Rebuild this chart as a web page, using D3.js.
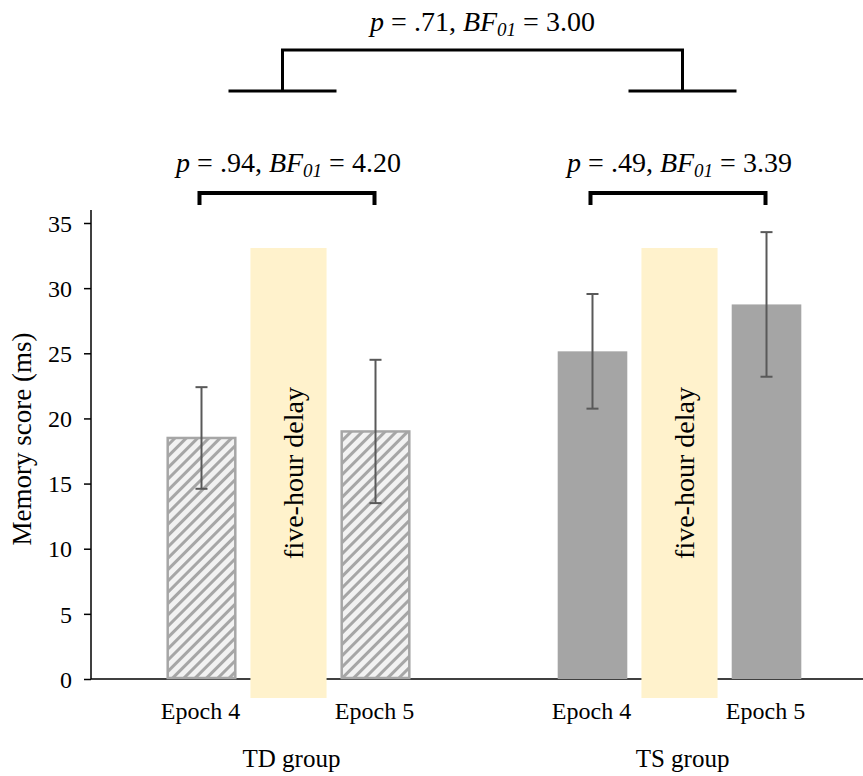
<!DOCTYPE html>
<html>
<head>
<meta charset="utf-8">
<script src="https://cdn.jsdelivr.net/npm/d3@7"></script>
<style>
  body { margin: 0; background: #fff; }
  svg { display: block; }
</style>
</head>
<body>
<svg id="chart" width="863" height="776"></svg>
<script>
// data
const groups = ['TD group', 'TS group'];
const epochs = ['Epoch 4', 'Epoch 5'];
const means = [[18.5, 19.0], [25.15, 28.75]];   // per group, per epoch
const errs = [[3.9, 5.5], [4.4, 5.55]];
const yTicks = [0, 5, 10, 15, 20, 25, 30, 35];
const delayLabel = 'five-hour delay';
const groupTests = [{ p: '.94', bf: '4.20' }, { p: '.49', bf: '3.39' }];
const overallTest = { p: '.71', bf: '3.00' };

const FONT = '"Liberation Serif", "Times New Roman", serif';
const svg = d3.select('#chart');

// scales
const y = d3.scaleLinear().domain([0, 35]).range([679, 223]);
const xGroup = d3.scaleBand().domain(groups).range([93, 875]);
const slots = [epochs[0], 'delay', epochs[1]];
const xInner = d3.scaleBand().domain(slots).range([0, xGroup.bandwidth()])
	.paddingInner(0.2).paddingOuter(0.847);

const gCenter = g => xGroup(g) + xGroup.bandwidth() / 2;
const barX = (g, e) => xGroup(g) + xInner(e);
const barMid = (g, e) => barX(g, e) + xInner.bandwidth() / 2;

function addText(sel, size) {
	return sel.append('text')
		.style('font-family', FONT)
		.style('font-size', size + 'px')
		.attr('fill', '#000');
}

// hatch pattern for the TD bars
const defs = svg.append('defs');
const pat = defs.append('pattern')
	.attr('id', 'hatch')
	.attr('patternUnits', 'userSpaceOnUse')
	.attr('width', 8)
	.attr('height', 8)
	.attr('patternTransform', 'rotate(45)');
pat.append('rect').attr('width', 8).attr('height', 8).attr('fill', '#f2f2f2');
pat.append('rect').attr('width', 3).attr('height', 8).attr('fill', '#a6a6a6');

// axes
const axisX = 91;
svg.append('line')
	.attr('x1', axisX).attr('x2', 863)
	.attr('y1', y(0)).attr('y2', y(0))
	.attr('stroke', '#000').attr('stroke-width', 1.5);
svg.append('line')
	.attr('x1', axisX).attr('x2', axisX)
	.attr('y1', 210).attr('y2', y(0))
	.attr('stroke', '#000').attr('stroke-width', 1.5);

const yAxis = svg.append('g')
	.attr('transform', `translate(${axisX},0)`)
	.call(d3.axisLeft(y).tickValues(yTicks).tickSize(7).tickPadding(12));
yAxis.select('.domain').remove();
yAxis.selectAll('.tick line').attr('stroke', '#000').attr('stroke-width', 1.5);
yAxis.selectAll('.tick text')
	.attr('fill', '#000')
	.style('font-family', FONT)
	.style('font-size', '24px')
	.attr('dy', '0.34em');

addText(svg, 27)
	.attr('transform', `translate(31,439) rotate(-90)`)
	.attr('text-anchor', 'middle')
	.text('Memory score (ms)');

// bars
const barData = [];
groups.forEach((g, gi) => {
	epochs.forEach((e, ei) => {
		barData.push({ g, e, gi, v: means[gi][ei], err: errs[gi][ei] });
	});
});

svg.selectAll('rect.bar')
	.data(barData)
	.enter()
	.append('rect')
	.classed('bar', true)
	.attr('x', d => barX(d.g, d.e) + (d.gi === 0 ? 1 : 0))
	.attr('y', d => y(d.v))
	.attr('width', d => xInner.bandwidth() - (d.gi === 0 ? 2 : 0))
	.attr('height', d => y(0) - y(d.v) - (d.gi === 0 ? 1 : 0))
	.attr('fill', d => d.gi === 0 ? 'url(#hatch)' : '#a5a5a5')
	.attr('stroke', d => d.gi === 0 ? '#a6a6a6' : 'none')
	.attr('stroke-width', 2.5);

// delay bands (drawn over the axis line)
const delayW = xInner.step() * 0.875;
const delayTop = 248, delayBottom = 698;
groups.forEach(g => {
	const cx = xGroup(g) + xInner('delay') + xInner.bandwidth() / 2;
	svg.append('rect')
		.attr('x', cx - delayW / 2)
		.attr('y', delayTop)
		.attr('width', delayW)
		.attr('height', delayBottom - delayTop)
		.attr('fill', '#fff2cc');
	addText(svg, 28)
		.attr('transform', `translate(${cx + 14},${(delayTop + delayBottom) / 2}) rotate(-90)`)
		.attr('text-anchor', 'middle')
		.text(delayLabel);
});

// error bars
const eb = svg.selectAll('g.err').data(barData).enter().append('g').classed('err', true)
	.attr('stroke', '#595959').attr('stroke-width', 2);
eb.append('line')
	.attr('x1', d => barMid(d.g, d.e)).attr('x2', d => barMid(d.g, d.e))
	.attr('y1', d => y(d.v + d.err)).attr('y2', d => y(d.v - d.err));
eb.append('line')
	.attr('x1', d => barMid(d.g, d.e) - 6).attr('x2', d => barMid(d.g, d.e) + 6)
	.attr('y1', d => y(d.v + d.err)).attr('y2', d => y(d.v + d.err));
eb.append('line')
	.attr('x1', d => barMid(d.g, d.e) - 6).attr('x2', d => barMid(d.g, d.e) + 6)
	.attr('y1', d => y(d.v - d.err)).attr('y2', d => y(d.v - d.err));

// x labels
barData.forEach(d => {
	addText(svg, 24)
		.attr('x', barMid(d.g, d.e) - 1)
		.attr('y', 719)
		.attr('text-anchor', 'middle')
		.text(d.e);
});

groups.forEach(g => {
	addText(svg, 25)
		.attr('x', gCenter(g) + 3)
		.attr('y', 767)
		.attr('text-anchor', 'middle')
		.text(g);
});

// stats annotation: p = .xx, BF01 = x.xx
function statText(x, yPos, t) {
	const txt = addText(svg, 28)
		.attr('x', x).attr('y', yPos)
		.attr('text-anchor', 'middle');
	txt.append('tspan').style('font-style', 'italic').text('p');
	txt.append('tspan').text(` = ${t.p}, `);
	txt.append('tspan').style('font-style', 'italic').text('BF');
	txt.append('tspan').style('font-style', 'italic').style('font-size', '19px')
		.attr('dy', 5).text('01');
	txt.append('tspan').attr('dy', -5).text(` = ${t.bf}`);
}

groups.forEach((g, gi) => {
	const x1 = barMid(g, epochs[0]) - 2, x2 = barMid(g, epochs[1]) - 1;
	svg.append('path')
		.attr('d', `M${x1},205V193H${x2}V205`)
		.attr('fill', 'none')
		.attr('stroke', '#000')
		.attr('stroke-width', 4);
	statText(gCenter(g), 172, groupTests[gi]);
});

// overall bracket between groups
const gl = gCenter(groups[0]) - 6, gr = gCenter(groups[1]) + 3;
svg.append('path')
	.attr('d', `M${gl - 54},91H${gl + 54}M${gl},91V50H${gr}V91M${gr - 54},91H${gr + 54}`)
	.attr('fill', 'none')
	.attr('stroke', '#000')
	.attr('stroke-width', 3);
statText((gl + gr) / 2, 31, overallTest);
</script>
</body>
</html>
